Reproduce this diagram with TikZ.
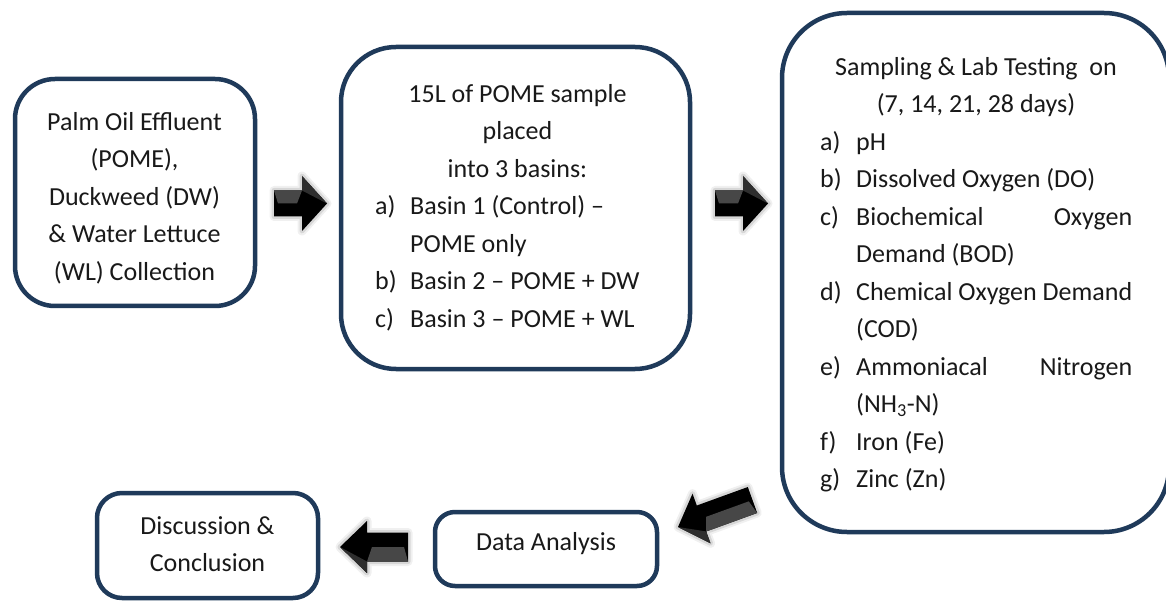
\documentclass[tikz,border=0pt]{standalone}
\usepackage{fontspec}
\setmainfont{Carlito}
\usetikzlibrary{calc}
\definecolor{navy}{HTML}{1F3A5A}
\newcommand\itemlbl[1]{\makebox[36pt][l]{#1}}
\newcommand\itemlblb[1]{\makebox[35pt][l]{#1}}
% block arrow: #1 tail, #2 tip, #3 head length, #4 body half width, #5 head half width, #6 prefix
\newcommand\blockarrow[6]{%
  \coordinate (#6H) at ($(#2)!#3!(#1)$);
  \coordinate (#6p1) at ($(#1)!#4!90:(#2)$);
  \coordinate (#6p2) at ($(#6H)!#4!90:(#2)$);
  \coordinate (#6p3) at ($(#6H)!#5!90:(#2)$);
  \coordinate (#6p5) at ($(#6H)!#5!-90:(#2)$);
  \coordinate (#6p6) at ($(#6H)!#4!-90:(#2)$);
  \coordinate (#6p7) at ($(#1)!#4!-90:(#2)$);
  \draw[black, opacity=0.06, line width=9pt, line join=round]
    (#6p1) -- (#6p2) -- (#6p3) -- (#2) -- (#6p5) -- (#6p6) -- (#6p7) -- cycle;
  \draw[black, opacity=0.10, line width=5pt, line join=round]
    (#6p1) -- (#6p2) -- (#6p3) -- (#2) -- (#6p5) -- (#6p6) -- (#6p7) -- cycle;
  \fill[black]
    (#6p1) -- (#6p2) -- (#6p3) -- (#2) -- (#6p5) -- (#6p6) -- (#6p7) -- cycle;
  \fill[black!72] (#6p1) -- (#6p2) -- ($(#6H)!5pt!(#1)$) -- ($(#1)!4pt!(#2)$) -- cycle;
  \fill[black!82] (#6p3) -- (#2) -- ($(#6p2)!0.3!(#2)$) -- (#6p2) -- cycle;
}
\tikzset{
  box/.style={draw=navy, line width=4.5pt, fill=white, inner sep=0pt},
  txt/.style={font=\fontsize{26}{37.5}\selectfont, inner sep=0pt, text=black!90},
}
\begin{document}
\begin{tikzpicture}[x=1pt,y=-1pt]
\useasboundingbox[fill=white] (0,0) rectangle (1166,601);

% boxes
\node[box, rounded corners=40pt, minimum width=240pt, minimum height=227pt] (b1) at (135,192.5) {};
\node[box, rounded corners=55pt, minimum width=349pt, minimum height=322pt] (b2) at (515.5,208) {};
\node[box, rounded corners=65pt, minimum width=387pt, minimum height=519pt] (b3) at (975.5,272.5) {};
\node[box, rounded corners=25pt, minimum width=221pt, minimum height=105pt] (b4) at (207.5,545.5) {};
\node[box, rounded corners=20pt, minimum width=222pt, minimum height=74pt] (b5) at (546,549) {};

% texts
\node[txt, anchor=north, align=center] (t1) at (134.5,103.75)
  {\strut Palm Oil Effluent\\(POME),\\Duckweed (DW)\\\& Water Lettuce\\(WL) Collection};

\node[txt, anchor=north, align=center] (t2a) at (517.5,75.75)
  {\strut 15L of POME sample\\placed\\into 3 basins:};
\node[txt, anchor=north west, align=left] (t2b) at (375,188.25)
  {\strut\itemlblb{a)}Basin 1 (Control) –\\
   \hspace*{35pt}POME only\\
   \itemlblb{b)}Basin 2 – POME + DW\\
   \itemlblb{c)}Basin 3 – POME + WL};

\node[txt, anchor=north, align=center] (t3a) at (976,48.75)
  {\strut Sampling \& Lab Testing\ \ on\\(7, 14, 21, 28 days)};
\node[txt, anchor=north west, align=left] (t3b) at (820,123.75)
  {\strut\itemlbl{a)}pH\\
   \itemlbl{b)}Dissolved Oxygen (DO)\\
   \itemlbl{c)}\makebox[276pt][s]{Biochemical Oxygen}\\
   \hspace*{36pt}Demand (BOD)\\
   \itemlbl{d)}Chemical Oxygen Demand\\
   \hspace*{36pt}(COD)\\
   \itemlbl{e)}\makebox[276pt][s]{Ammoniacal Nitrogen}\\
   \hspace*{36pt}(NH\textsubscript{3}-N)\\
   \itemlbl{f)}Iron (Fe)\\
   \itemlbl{g)}Zinc (Zn)};

\node[txt, anchor=north, align=center] (t4) at (207.5,507.75)
  {\strut Discussion \&\\Conclusion};
\node[txt, anchor=north, align=center] (t5) at (546,523.75)
  {\strut Data Analysis};

% arrows
\coordinate (a1s) at (274,203.5);
\coordinate (a1e) at (327,203.5);
\coordinate (a2s) at (715,203.5);
\coordinate (a2e) at (768,203.5);
\coordinate (a3s) at (752.5,500);
\coordinate (a3e) at (678,527);
\coordinate (a4s) at (408,547);
\coordinate (a4e) at (340,547);
\blockarrow{a1s}{a1e}{25pt}{13pt}{27.5pt}{A}
\blockarrow{a2s}{a2e}{25pt}{13pt}{27.5pt}{B}
\blockarrow{a3s}{a3e}{25pt}{13.8pt}{26.4pt}{C}
\blockarrow{a4s}{a4e}{27pt}{14.5pt}{26pt}{D}
\end{tikzpicture}
\end{document}
